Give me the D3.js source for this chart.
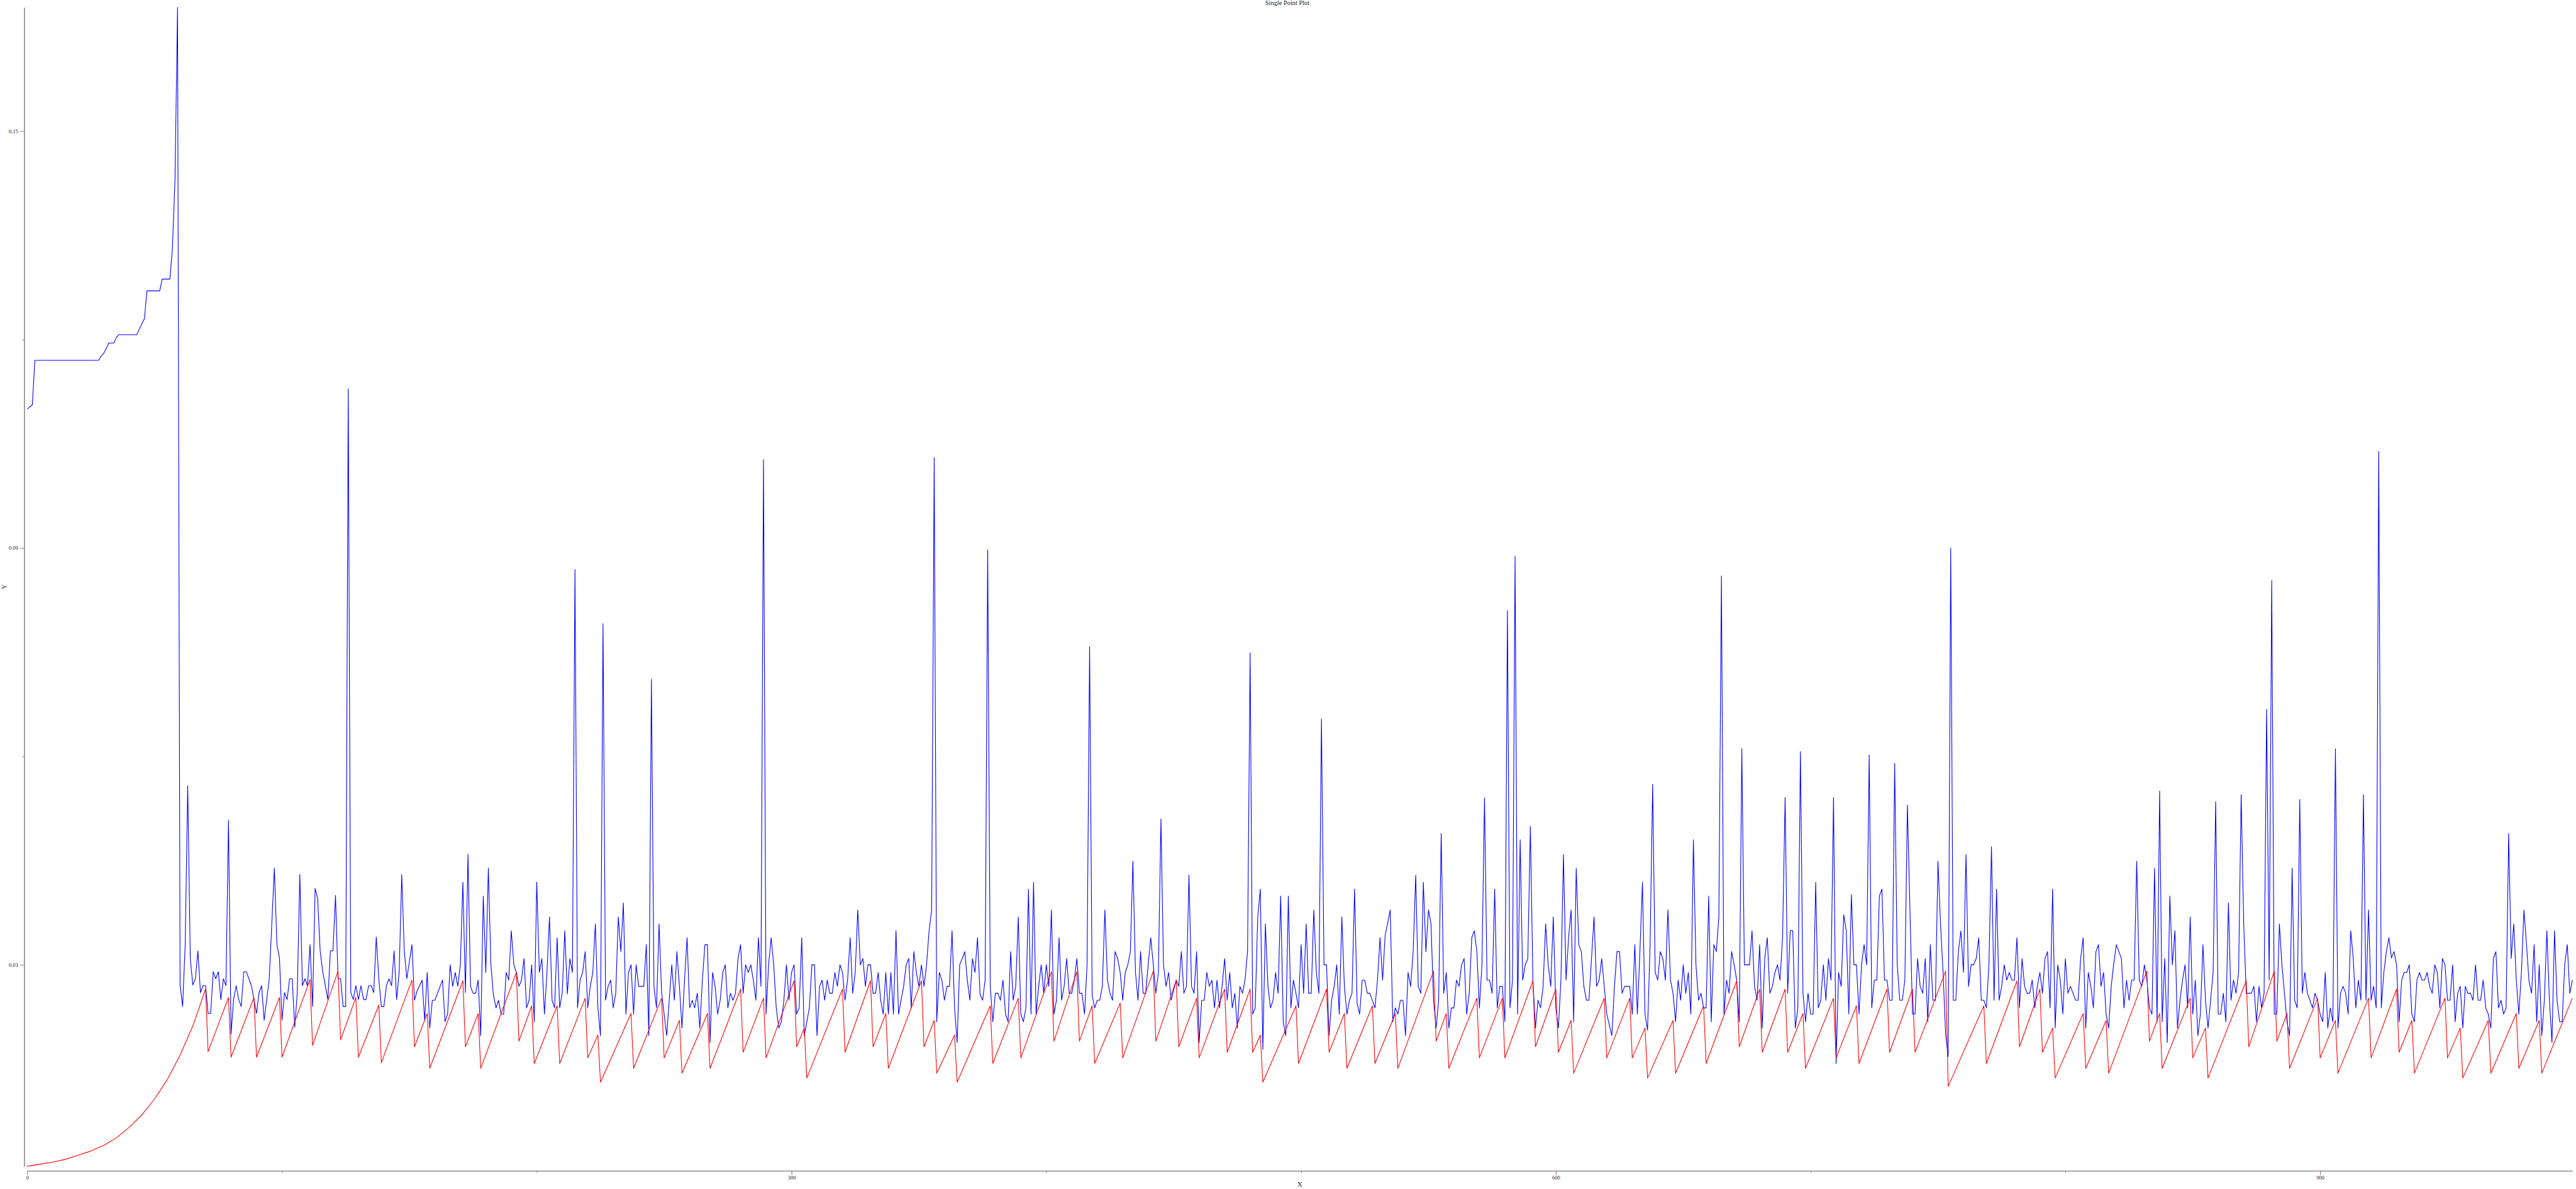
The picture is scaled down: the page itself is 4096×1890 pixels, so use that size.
<!DOCTYPE html>
<html>
<head>
<meta charset="utf-8">
<script src="https://cdn.jsdelivr.net/npm/d3@7"></script>
<style>
  html, body { margin: 0; padding: 0; background: #fff; }
  svg { display: block; }
</style>
</head>
<body>
<svg id="chart" width="4096" height="1890"></svg>
<script>
// ---------------- data ----------------
const chartTitle = "Single Point Plot";
const xLabel = "X";
const yLabel = "Y";

const xTicks = [0, 100, 200, 300, 400, 500, 600, 700, 800, 900];
const xTickLabels = [0, 300, 600, 900];
const yTicks = [0.03, 0.06, 0.09, 0.12, 0.15];
const yTickLabels = [0.03, 0.09, 0.15];

// blue series: [x, value]
const blueSeries = [
[0,0.1100],[1,0.1103],[2,0.1106],[3,0.1170],[28,0.1170],[29,0.1176],[30,0.1180],[31,0.1187],[32,0.1195],[34,0.1195],[35,0.1203],[36,0.1207],[43,0.1207],[44,0.1215],[46,0.1230],[47,0.1270],[52,0.1270],[53,0.1287],[56,0.1287],[57,0.1332],[58,0.1430],[59,0.1678],
[60,0.0271],[61,0.0240],[62,0.0329],[63,0.0558],[64,0.0309],[65,0.0271],[66,0.0280],[67,0.0320],[68,0.0260],[69,0.0270],[70,0.0270],[71,0.0230],[72,0.0230],[73,0.0290],[74,0.0280],[75,0.0290],[76,0.0250],[77,0.0280],[78,0.0270],[79,0.0508],[80,0.0200],[81,0.0250],[82,0.0270],[83,0.0250],[84,0.0240],[85,0.0290],[86,0.0290],[88,0.0270],[90,0.0230],[91,0.0260],[92,0.0270],[93,0.0220],[95,0.0280],[97,0.0439],[98,0.0329],[99,0.0310],[100,0.0220],[101,0.0260],[102,0.0250],[103,0.0280],[104,0.0280],[105,0.0210],[106,0.0260],[107,0.0430],[108,0.0270],[109,0.0280],[110,0.0270],[111,0.0329],[112,0.0240],[113,0.0410],[114,0.0395],[115,0.0319],[116,0.0290],[118,0.0250],[119,0.0320],[120,0.0320],[121,0.0400],[122,0.0280],[123,0.0280],[124,0.0240],[125,0.0240],[126,0.1129],[127,0.0260],[128,0.0250],[129,0.0270],[130,0.0250],[131,0.0270],[132,0.0250],[133,0.0250],[134,0.0270],[135,0.0270],[136,0.0260],[137,0.0340],[138,0.0280],[139,0.0240],[140,0.0240],[141,0.0270],[142,0.0280],[143,0.0270],[144,0.0320],[145,0.0250],[146,0.0290],[147,0.0430],[148,0.0320],[149,0.0280],[151,0.0329],
[152,0.0249],[153,0.0262],[155,0.0278],[156,0.0220],[157,0.0289],[158,0.0209],[159,0.0249],[160,0.0249],[163,0.0278],[164,0.0218],[165,0.0229],[166,0.0300],[167,0.0269],[168,0.0289],[169,0.0269],[170,0.0300],[171,0.0419],[172,0.0260],[173,0.0459],[174,0.0269],[175,0.0259],[176,0.0259],[177,0.0278],[178,0.0198],[179,0.0399],[180,0.0289],[181,0.0439],[182,0.0300],[183,0.0256],[184,0.0238],[185,0.0249],[186,0.0229],[187,0.0229],[188,0.0289],[189,0.0278],[190,0.0349],[191,0.0300],[192,0.0289],[193,0.0269],[194,0.0278],[195,0.0309],[196,0.0238],[197,0.0249],[198,0.0300],[199,0.0218],[200,0.0419],[201,0.0289],[202,0.0309],[203,0.0229],[204,0.0289],[205,0.0369],[206,0.0249],[207,0.0238],[208,0.0339],[209,0.0238],[210,0.0260],[211,0.0349],[212,0.0258],[213,0.0309],[214,0.0289],[215,0.0869],[216,0.0238],[217,0.0278],[218,0.0289],[219,0.0319],[220,0.0238],[221,0.0269],[222,0.0289],[223,0.0359],[224,0.0238],[225,0.0198],[226,0.0791],[227,0.0249],[228,0.0269],[229,0.0278],[230,0.0238],[231,0.0259],[232,0.0369],[233,0.0319],[234,0.0389],[235,0.0229],[236,0.0289],[237,0.0300],[238,0.0229],[239,0.0300],[240,0.0269],[242,0.0269],[243,0.0329],[244,0.0198],[245,0.0711],[246,0.0269],[247,0.0238],[248,0.0359],[249,0.0260],[250,0.0229],[251,0.0198],[252,0.0249],[253,0.0300],[254,0.0249],[255,0.0319],[256,0.0269],[257,0.0209],[258,0.0278],[259,0.0339],[260,0.0238],[261,0.0249],[262,0.0238],[263,0.0259],[264,0.0209],[265,0.0278],[266,0.0329],[267,0.0329],[268,0.0188],[269,0.0289],[270,0.0269],[271,0.0229],[272,0.0249],[273,0.0289],[274,0.0300],[275,0.0238],[276,0.0259],[277,0.0249],[278,0.0259],[279,0.0309],[280,0.0329],[281,0.0259],[282,0.0300],[283,0.0289],[284,0.0300],[285,0.0278],[286,0.0249],[287,0.0339],[288,0.0269],[289,0.1027],[290,0.0229],[291,0.0300],[292,0.0339],[293,0.0300],[294,0.0238],[295,0.0209],[296,0.0218],[297,0.0249],[298,0.0300],[299,0.0249],[300,0.0289],[301,0.0300],[302,0.0229],[303,0.0238],[304,0.0339],[305,0.0198],[306,0.0218],[307,0.0238],[308,0.0300],[309,0.0300],[310,0.0198],[311,0.0269],[312,0.0278],[313,0.0249],[314,0.0278],[315,0.0259],[316,0.0259],[317,0.0289],[318,0.0269],[319,0.0300],[320,0.0289],[321,0.0249],[322,0.0278],[323,0.0339],[324,0.0259],[325,0.0289],[326,0.0379],[327,0.0300],[328,0.0309],[329,0.0269],[330,0.0300],[331,0.0300],[332,0.0259],[333,0.0259],[334,0.0289],[335,0.0249],[336,0.0229],[337,0.0289],[338,0.0229],[339,0.0289],[340,0.0229],[341,0.0349],[342,0.0229],[343,0.0249],[344,0.0269],[345,0.0300],[346,0.0309],[347,0.0238],[348,0.0319],[349,0.0289],[350,0.0269],[351,0.0300],[352,0.0269],[353,0.0300],[354,0.0349],[355,0.0379],[356,0.1030],[357,0.0218],[358,0.0289],[359,0.0278],[360,0.0249],[361,0.0269],[362,0.0269],[363,0.0349],[364,0.0238],[365,0.0188],[366,0.0300],[367,0.0309],[368,0.0319],[369,0.0278],[370,0.0249],[371,0.0309],[372,0.0289],[373,0.0339],[374,0.0258],[375,0.0249],[376,0.0278],[377,0.0897],[378,0.0269],[379,0.0218],[380,0.0259],[381,0.0259],[382,0.0249],[383,0.0278],[384,0.0229],[385,0.0218],[386,0.0319],[387,0.0249],[388,0.0269],[389,0.0369],[390,0.0229],[391,0.0218],[392,0.0238],[393,0.0409],[394,0.0229],[395,0.0419],[396,0.0229],[397,0.0269],[398,0.0300],[399,0.0259],[400,0.0300],[401,0.0269],[402,0.0379],[403,0.0229],[404,0.0249],[405,0.0339],[406,0.0249],[407,0.0269],[408,0.0309],[409,0.0259],[410,0.0259],[411,0.0278],[412,0.0309],[413,0.0259],[414,0.0259],[415,0.0229],[416,0.0300],[417,0.0758],[418,0.0256],[419,0.0238],[420,0.0249],[421,0.0249],[422,0.0269],[423,0.0379],[424,0.0278],[425,0.0259],[426,0.0249],[427,0.0319],[428,0.0309],[429,0.0289],[430,0.0249],[431,0.0289],[432,0.0300],[433,0.0319],[434,0.0449],
[435,0.0289],[436,0.0249],[437,0.0319],[438,0.0259],[439,0.0259],[440,0.0300],[441,0.0339],[442,0.0300],[443,0.0259],[444,0.0289],[445,0.0510],[446,0.0300],[447,0.0269],[448,0.0289],[449,0.0249],[451,0.0278],[452,0.0269],[453,0.0319],[454,0.0259],[455,0.0269],[456,0.0429],[457,0.0269],[458,0.0259],[459,0.0319],[460,0.0188],[461,0.0249],[462,0.0249],[463,0.0289],[464,0.0269],[465,0.0278],[466,0.0238],[467,0.0278],[468,0.0238],[469,0.0269],[470,0.0309],[471,0.0249],[472,0.0289],[473,0.0238],[474,0.0259],[475,0.0209],[476,0.0269],[477,0.0259],[478,0.0278],[479,0.0319],[480,0.0749],[481,0.0229],[482,0.0238],[483,0.0369],[484,0.0409],[485,0.0178],[486,0.0359],[487,0.0269],[488,0.0238],[489,0.0249],[490,0.0289],[491,0.0259],[492,0.0399],[493,0.0218],[494,0.0198],[495,0.0399],[496,0.0238],[497,0.0278],[498,0.0259],[499,0.0238],[500,0.0329],[501,0.0259],[502,0.0359],[503,0.0259],[504,0.0259],[505,0.0379],[506,0.0289],[507,0.0259],[508,0.0654],[509,0.0300],[510,0.0300],[511,0.0198],[512,0.0249],[513,0.0269],[514,0.0300],[515,0.0229],[516,0.0369],[517,0.0269],[518,0.0229],[519,0.0249],[520,0.0259],[521,0.0409],[522,0.0244],[523,0.0229],[524,0.0278],[525,0.0278],[526,0.0259],[527,0.0259],[529,0.0238],[530,0.0278],[531,0.0339],[532,0.0278],[533,0.0342],[535,0.0379],[536,0.0218],[537,0.0238],[538,0.0229],[539,0.0249],[540,0.0249],[541,0.0198],[542,0.0289],[543,0.0269],[544,0.0319],[545,0.0429],[546,0.0269],[547,0.0259],[548,0.0419],[549,0.0319],[550,0.0379],[551,0.0359],[552,0.0249],[553,0.0209],[554,0.0249],[555,0.0489],[556,0.0259],[557,0.0289],[558,0.0209],[559,0.0238],[560,0.0238],[561,0.0278],[562,0.0269],[563,0.0300],[564,0.0309],[565,0.0229],[566,0.0259],[567,0.0339],[568,0.0349],[569,0.0319],[570,0.0238],[571,0.0300],[572,0.0540],[573,0.0278],[574,0.0278],[575,0.0259],[576,0.0409],[577,0.0238],[578,0.0269],[579,0.0269],[580,0.0218],[581,0.0810],[582,0.0238],[583,0.0278],[584,0.0888],[585,0.0229],[586,0.0480],[587,0.0278],[588,0.0300],[589,0.0309],[590,0.0499],[591,0.0278],[592,0.0209],[593,0.0249],[594,0.0238],[595,0.0269],[596,0.0359],[597,0.0300],[598,0.0269],[599,0.0369],[600,0.0238],[601,0.0209],[602,0.0278],[603,0.0459],[604,0.0278],[605,0.0339],[606,0.0379],[607,0.0218],[608,0.0439],[609,0.0329],[610,0.0319],[611,0.0269],[612,0.0249],[613,0.0249],[615,0.0369],[616,0.0269],[617,0.0278],[618,0.0309],[620,0.0229],[622,0.0198],[623,0.0269],[624,0.0319],[625,0.0319],[626,0.0259],[627,0.0269],[629,0.0269],[630,0.0229],[631,0.0329],[632,0.0229],[633,0.0319],[634,0.0419],[635,0.0229],[636,0.0206],[637,0.0329],[638,0.0560],[639,0.0289],[640,0.0278],[641,0.0319],[642,0.0309],[643,0.0278],[644,0.0379],[645,0.0278],[646,0.0259],[647,0.0218],[648,0.0278],[649,0.0249],[650,0.0300],[651,0.0259],[652,0.0289],[653,0.0229],[654,0.0480],[655,0.0300],[656,0.0249],[657,0.0259],[658,0.0238],[659,0.0238],[660,0.0399],[661,0.0218],[662,0.0329],[663,0.0319],[664,0.0369],[665,0.0860],[666,0.0229],[667,0.0278],[668,0.0259],[669,0.0319],[670,0.0300],[671,0.0278],[672,0.0218],[673,0.0611],[674,0.0300],[676,0.0300],[677,0.0349],[678,0.0269],[679,0.0249],[680,0.0329],[681,0.0209],[682,0.0309],[683,0.0339],[684,0.0259],[685,0.0269],[686,0.0289],[687,0.0300],[688,0.0278],[689,0.0339],[690,0.0541],[691,0.0259],[692,0.0349],[693,0.0349],[694,0.0209],[695,0.0238],[696,0.0607],[697,0.0259],[698,0.0218],[699,0.0259],[700,0.0229],[701,0.0229],[702,0.0419],[703,0.0238],[704,0.0249],[705,0.0300],[706,0.0249],[707,0.0309],[708,0.0278],[709,0.0541],[710,0.0158],[711,0.0289],[712,0.0269],[713,0.0372],[714,0.0349],[715,0.0229],[716,0.0401],
[717,0.0300],[718,0.0300],[719,0.0229],[720,0.0300],[721,0.0329],[722,0.0300],[723,0.0602],[724,0.0238],[725,0.0278],[726,0.0278],[727,0.0399],[728,0.0409],[729,0.0278],[730,0.0278],[731,0.0249],[732,0.0249],[733,0.0590],[734,0.0300],[735,0.0249],[736,0.0249],[737,0.0278],[738,0.0530],[740,0.0229],[741,0.0229],[742,0.0309],[743,0.0269],[744,0.0259],[745,0.0309],[746,0.0218],[747,0.0329],[748,0.0249],[749,0.0249],[750,0.0449],[751,0.0359],[752,0.0289],[753,0.0200],[754,0.0168],[755,0.0900],[756,0.0249],[757,0.0249],[758,0.0319],[759,0.0349],[760,0.0289],[761,0.0459],[762,0.0269],[763,0.0300],[764,0.0300],[765,0.0309],[766,0.0339],[767,0.0249],[768,0.0249],[769,0.0238],[770,0.0300],[771,0.0470],[772,0.0249],[773,0.0409],[774,0.0249],[775,0.0269],[776,0.0300],[777,0.0278],[778,0.0289],[779,0.0278],[780,0.0278],[781,0.0339],[782,0.0238],[783,0.0309],[784,0.0269],[785,0.0259],[786,0.0259],[787,0.0278],[788,0.0238],[789,0.0269],[790,0.0289],[791,0.0259],[792,0.0309],[793,0.0319],[794,0.0238],[795,0.0409],[796,0.0209],[797,0.0300],[798,0.0278],[799,0.0229],[800,0.0309],[801,0.0259],[802,0.0269],[803,0.0259],[804,0.0249],[805,0.0249],[806,0.0309],[807,0.0339],[808,0.0209],[809,0.0289],[810,0.0269],[811,0.0238],[812,0.0319],[813,0.0329],[814,0.0269],[815,0.0289],[816,0.0229],[817,0.0209],[818,0.0269],[819,0.0302],[820,0.0329],[821,0.0319],[822,0.0309],[823,0.0238],[824,0.0278],[825,0.0249],[826,0.0278],[827,0.0278],[828,0.0449],[829,0.0278],[830,0.0269],[831,0.0300],[832,0.0278],[833,0.0238],[834,0.0229],[835,0.0439],[836,0.0218],[837,0.0550],[838,0.0218],[839,0.0309],[840,0.0188],[841,0.0399],[842,0.0300],[843,0.0349],[844,0.0209],[845,0.0249],[846,0.0278],[847,0.0300],[848,0.0238],[849,0.0369],[850,0.0229],[851,0.0278],[852,0.0198],[853,0.0229],[854,0.0329],[855,0.0249],[856,0.0209],[857,0.0249],[858,0.0289],[859,0.0535],[860,0.0229],[861,0.0229],[862,0.0259],[863,0.0218],[864,0.0389],[865,0.0249],[866,0.0278],[867,0.0259],[868,0.0289],[869,0.0545],[870,0.0359],[871,0.0259],[872,0.0259],[873,0.0259],[874,0.0269],[875,0.0218],[876,0.0269],[877,0.0238],[878,0.0259],[879,0.0668],[880,0.0278],[881,0.0853],[882,0.0229],[883,0.0229],[884,0.0359],[885,0.0300],[886,0.0259],[887,0.0218],[888,0.0198],[889,0.0439],[890,0.0249],[891,0.0238],[892,0.0538],[893,0.0259],[894,0.0289],[895,0.0259],[896,0.0249],[897,0.0238],[898,0.0259],[899,0.0249],[900,0.0229],[901,0.0218],[902,0.0289],[903,0.0209],[904,0.0238],[905,0.0218],[906,0.0611],[907,0.0209],[908,0.0259],[909,0.0269],[910,0.0259],[911,0.0229],[912,0.0349],[913,0.0309],[914,0.0238],[915,0.0278],[916,0.0249],[917,0.0545],[918,0.0249],[919,0.0379],[920,0.0249],[921,0.0269],[922,0.0238],[923,0.1039],[924,0.0238],[925,0.0289],[926,0.0319],[927,0.0339],[928,0.0310],[929,0.0319],[930,0.0300],[931,0.0218],[932,0.0278],[933,0.0289],[934,0.0289],[935,0.0300],[936,0.0229],[937,0.0218],[938,0.0278],[939,0.0289],[940,0.0278],[941,0.0278],[942,0.0289],[943,0.0269],[944,0.0259],[945,0.0300],[946,0.0289],[947,0.0238],[948,0.0309],[949,0.0300],[950,0.0249],[951,0.0249],[952,0.0300],[953,0.0218],[954,0.0259],[955,0.0269],[956,0.0209],[957,0.0269],[958,0.0259],[959,0.0259],[960,0.0249],[961,0.0300],[962,0.0249],[963,0.0249],[964,0.0278],[965,0.0238],[966,0.0229],[967,0.0209],[968,0.0309],[969,0.0319],[970,0.0238],[971,0.0249],[972,0.0229],[973,0.0238],[974,0.0489],[975,0.0309],[976,0.0359],[977,0.0278],[978,0.0229],[979,0.0289],[980,0.0379],[981,0.0329],[982,0.0276],[983,0.0259],[984,0.0329],[985,0.0218],[986,0.0300],[987,0.0198],[988,0.0249],[989,0.0349],[990,0.0249],[991,0.0188],[992,0.0349],[993,0.0249],[994,0.0218],[995,0.0218],[996,0.0300],[997,0.0329],[998,0.0259],[999,0.0278]
];

// red series: [x, value] (read at the start of the curve, then each peak and trough)
const redSeries = [
[0,0.0010],[5,0.0013],[10,0.0016],[15,0.0020],[20,0.0026],[25,0.0032],[30,0.0040],[35,0.0051],[40,0.0066],[45,0.0084],[50,0.0107],[55,0.0135],[60,0.0170],[65,0.0212],[70,0.0265],
[71,0.0175],[79,0.0253],[80,0.0167],[89,0.0253],[90,0.0167],[99,0.0253],[100,0.0167],[111,0.0279],[112,0.0184],[122,0.0291],[123,0.0192],[129,0.0253],[130,0.0167],[138,0.0242],[139,0.0159],[151,0.0278],[152,0.0182],[157,0.0230],[158,0.0151],[171,0.0277],[172,0.0182],[177,0.0230],[178,0.0151],[192,0.0289],[193,0.0190],[198,0.0241],[199,0.0158],[208,0.0241],[209,0.0158],[219,0.0252],[220,0.0166],[224,0.0199],[225,0.0131],[237,0.0230],[238,0.0151],[249,0.0252],[250,0.0166],[256,0.0220],[257,0.0144],[267,0.0230],[268,0.0151],[280,0.0265],[281,0.0174],[289,0.0252],[290,0.0166],[301,0.0277],[302,0.0182],[305,0.0209],[306,0.0137],[320,0.0265],[321,0.0174],[331,0.0277],[332,0.0182],[337,0.0230],[338,0.0151],[351,0.0277],[352,0.0182],[356,0.0220],[357,0.0144],[364,0.0199],[365,0.0131],[378,0.0241],[379,0.0158],[389,0.0252],[390,0.0166],[402,0.0290],[403,0.0190],[412,0.0290],[413,0.0190],[418,0.0241],[419,0.0158],[429,0.0245],[430,0.0166],
[442,0.0291],[443,0.0190],[451,0.0278],[452,0.0182],[459,0.0252],[460,0.0166],[470,0.0265],[471,0.0174],[480,0.0265],[481,0.0174],[484,0.0199],[485,0.0131],[498,0.0241],[499,0.0158],[510,0.0265],[511,0.0174],[517,0.0230],[518,0.0151],[528,0.0241],[529,0.0158],[537,0.0230],[538,0.0151],[552,0.0291],[553,0.0190],[557,0.0230],[558,0.0151],[569,0.0252],[570,0.0166],[579,0.0252],[580,0.0166],[591,0.0277],[592,0.0182],[600,0.0265],[601,0.0174],[606,0.0220],[607,0.0144],[619,0.0252],[620,0.0166],[629,0.0252],[630,0.0166],[635,0.0209],[636,0.0137],[646,0.0220],[647,0.0144],[658,0.0241],[659,0.0158],[671,0.0277],[672,0.0182],[680,0.0265],[681,0.0174],[690,0.0265],[691,0.0174],[697,0.0230],[698,0.0151],[709,0.0252],[710,0.0166],
[718,0.0241],[719,0.0158],[730,0.0265],[731,0.0174],[740,0.0265],[741,0.0174],[753,0.0291],[754,0.0125],[768,0.0241],[769,0.0158],[781,0.0277],[782,0.0182],[790,0.0265],[791,0.0174],[795,0.0209],[796,0.0137],[807,0.0230],[808,0.0151],[816,0.0220],[817,0.0144],[832,0.0291],[833,0.0190],[837,0.0230],[838,0.0151],[849,0.0252],[850,0.0166],[855,0.0209],[856,0.0137],[871,0.0277],[872,0.0182],[882,0.0291],[883,0.0190],[887,0.0230],[888,0.0151],[899,0.0252],[900,0.0166],[906,0.0220],[907,0.0144],[919,0.0252],[920,0.0166],[930,0.0265],[931,0.0174],[936,0.0220],[937,0.0144],[949,0.0252],[950,0.0166],[955,0.0209],[956,0.0137],[966,0.0220],[967,0.0144],[977,0.0230],[978,0.0151],[986,0.0220],[987,0.0144],[999,0.0252]
];

// ---------------- chart ----------------
const svg = d3.select("#chart");
const FONT = "'Liberation Serif', 'Times New Roman', serif";

const allVals = blueSeries.concat(redSeries).map(d => d[1]);
const x = d3.scaleLinear()
  .domain([0, d3.max(blueSeries, d => d[0])])
  .range([43.3, 4090.2]);
const y = d3.scaleLinear()
  .domain([d3.min(allVals), d3.max(allVals)])
  .range([1853.9, 11.8]);

// title
svg.append("text")
  .attr("x", 2047).attr("y", 8.4)
  .attr("text-anchor", "middle")
  .style("font-family", FONT).style("font-size", "10.4px").style("fill", "#222")
  .text(chartTitle);

// x axis
const xAxisG = svg.append("g")
  .attr("transform", "translate(0,1861)")
  .call(d3.axisBottom(x)
    .tickValues(xTicks)
    .tickSize(6.6).tickSizeOuter(0).tickPadding(1.4)
    .tickFormat(d => xTickLabels.includes(d) ? d3.format("d")(d) : ""));
xAxisG.select(".domain").attr("stroke", "#8a8a8a").attr("stroke-width", 1.3);
xAxisG.selectAll(".tick line")
  .attr("stroke", "#777")
  .attr("y2", d => xTickLabels.includes(d) ? 6.6 : 3.3);
xAxisG.selectAll(".tick text")
  .style("font-family", FONT).style("font-size", "8.5px").attr("fill", "#222");

// y axis
const yAxisG = svg.append("g")
  .attr("transform", "translate(38.4,0)")
  .call(d3.axisLeft(y)
    .tickValues(yTicks)
    .tickSize(6.6).tickSizeOuter(0).tickPadding(3)
    .tickFormat(d => yTickLabels.some(v => Math.abs(v - d) < 1e-9) ? d3.format(".2f")(d) : ""));
yAxisG.select(".domain").attr("stroke", "#444").attr("stroke-width", 1);
yAxisG.selectAll(".tick line")
  .attr("stroke", "#888")
  .attr("x2", d => yTickLabels.some(v => Math.abs(v - d) < 1e-9) ? -6.6 : -3.3);
yAxisG.selectAll(".tick text")
  .style("font-family", FONT).style("font-size", "8.5px").attr("fill", "#222");

// axis titles
svg.append("text")
  .attr("x", (x.range()[0] + x.range()[1]) / 2).attr("y", 1886)
  .attr("text-anchor", "middle")
  .style("font-family", FONT).style("font-size", "11px").style("fill", "#222")
  .text(xLabel);
svg.append("text")
  .attr("transform", `translate(10,${(y.range()[0] + y.range()[1]) / 2}) rotate(-90)`)
  .attr("text-anchor", "middle")
  .style("font-family", FONT).style("font-size", "11px").style("fill", "#222")
  .text(yLabel);

// lines
const line = d3.line().x(d => x(d[0])).y(d => y(d[1]));
svg.append("path").datum(blueSeries)
  .attr("fill", "none").attr("stroke", "#0000ff").attr("stroke-width", 1.1)
  .attr("stroke-linejoin", "round")
  .attr("d", line);
svg.append("path").datum(redSeries)
  .attr("fill", "none").attr("stroke", "#ff0000").attr("stroke-width", 1.1)
  .attr("stroke-linejoin", "round")
  .attr("d", line);
</script>
</body>
</html>
